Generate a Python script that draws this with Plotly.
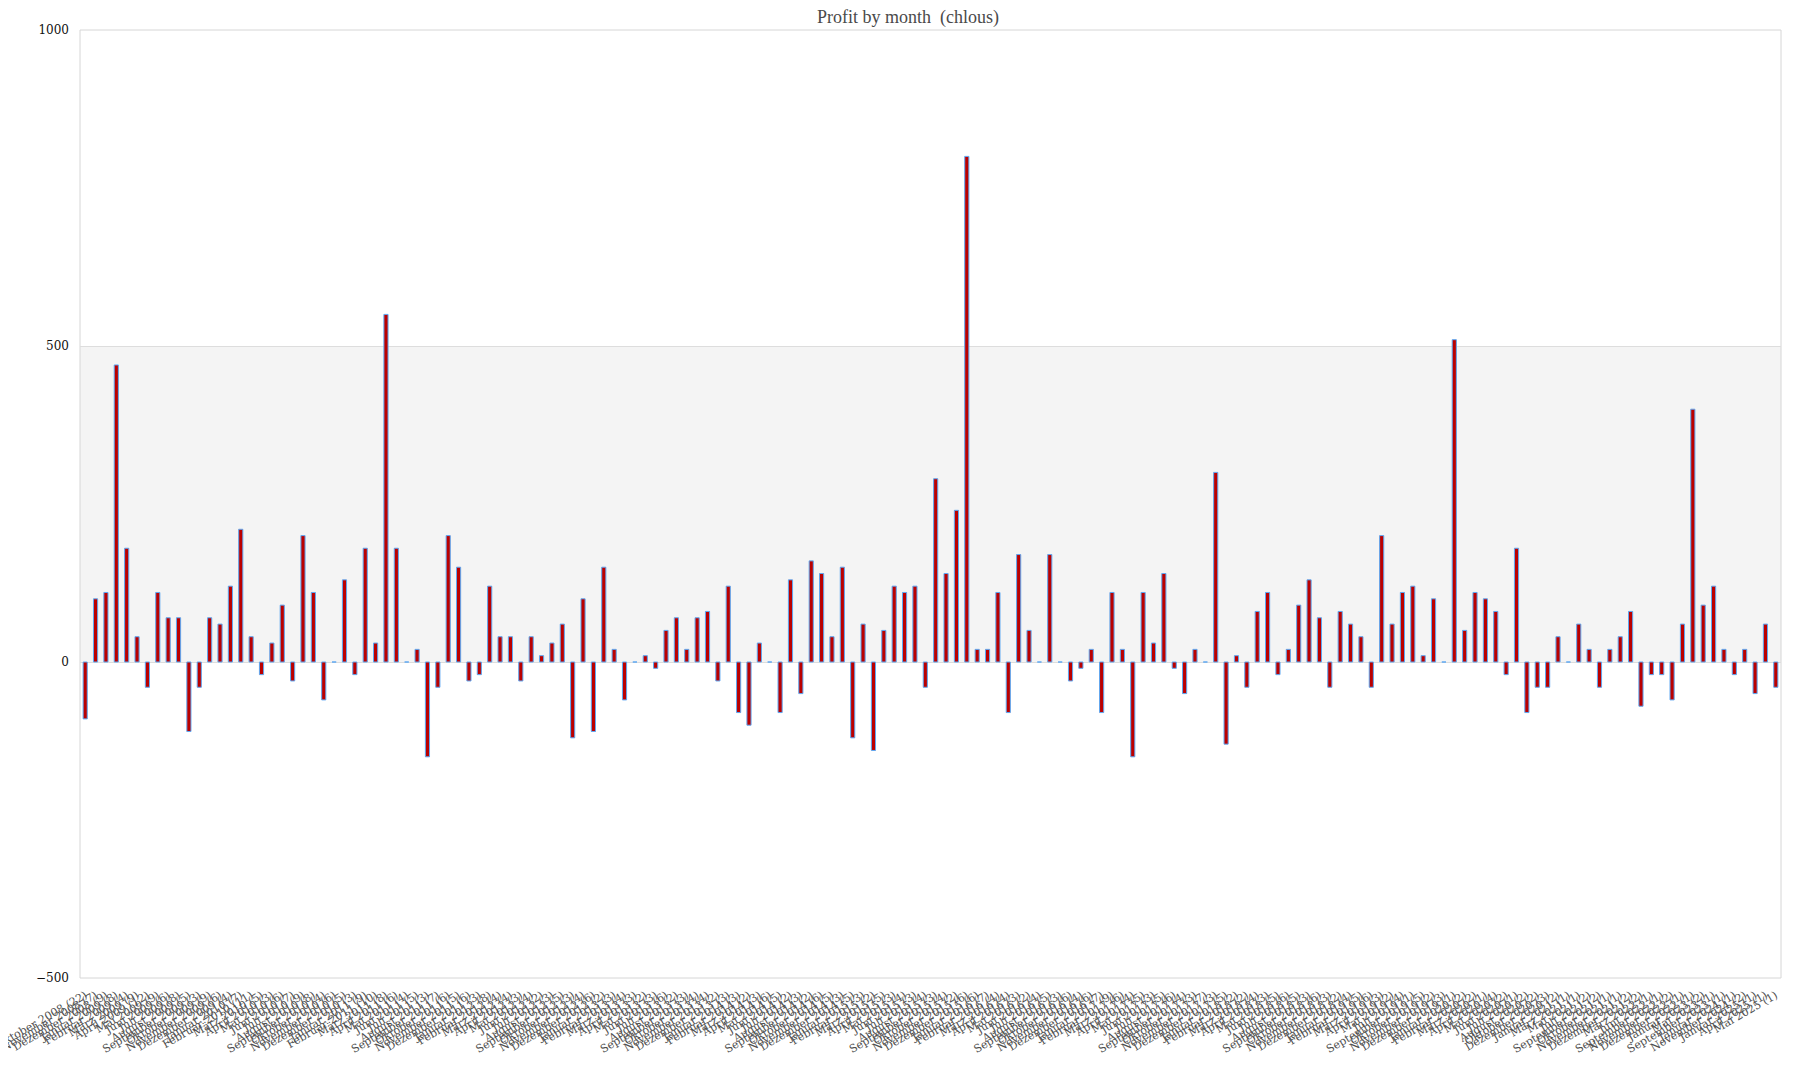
import plotly.graph_objects as go

# German month names used in the tick labels
months_de = ["Januar", "Februar", "März", "April", "Mai", "Juni", "Juli",
             "August", "September", "Oktober", "November", "Dezember"]

# months (year, month) that have at least one trade, in order
periods = [(2008, m) for m in (10, 11, 12)]
periods += [(y, m) for y in range(2009, 2018) for m in range(1, 13)]
periods += [(2018, m) for m in range(1, 13)]
periods += [(2019, m) for m in (1, 2, 3, 4, 5, 7, 9, 10, 11, 12)]
periods += [(2020, m) for m in (1, 2, 3, 4, 5, 6, 7, 8, 10, 12)]
periods += [(2021, m) for m in (1, 3, 5, 7, 9, 10, 11, 12)]
periods += [(2022, m) for m in (3, 6, 9, 11, 12)]
periods += [(2023, m) for m in (1, 5, 9)]
periods += [(2024, m) for m in (1, 11)]
periods += [(2025, m) for m in (1, 4, 5)]

# number of trades per month (the value in brackets)
trade_counts = [22, 7, 9, 8, 4, 9, 12, 9, 6, 8, 5, 3, 9, 6, 4, 7, 11, 5, 3, 6,
                7, 9, 8, 4, 6, 5, 3, 9, 10, 8, 6, 4, 5, 3, 7, 6, 5, 6, 3, 8,
                4, 4, 3, 4, 2, 3, 5, 3, 4, 6, 2, 3, 4, 3, 2, 3, 6, 2, 3, 4,
                4, 2, 3, 3, 2, 3, 6, 5, 2, 3, 2, 6, 5, 3, 5, 3, 2, 5, 3, 4,
                3, 4, 3, 4, 2, 6, 6, 7, 4, 4, 3, 2, 4, 5, 3, 6, 4, 6, 7, 9,
                6, 4, 5, 3, 5, 6, 4, 3, 7, 3, 5, 2, 2, 4, 3, 5, 6, 5, 3, 6,
                3, 2, 4, 5, 6, 3, 2, 4, 1, 5, 2, 3, 1, 2, 2, 1, 4, 2, 1, 2,
                2, 3, 2, 1, 1, 2, 2, 1, 1, 2, 2, 1, 1, 2, 1, 1, 2, 1, 1, 1,
                2, 1, 1, 1]

# profit per month
profits = [-90, 100, 110, 470, 180, 40, -40, 110, 70, 70,
           -110, -40, 70, 60, 120, 210, 40, -20, 30, 90,
           -30, 200, 110, -60, 0, 130, -20, 180, 30, 550,
           180, 0, 20, -150, -40, 200, 150, -30, -20, 120,
           40, 40, -30, 40, 10, 30, 60, -120, 100, -110,
           150, 20, -60, 0, 10, -10, 50, 70, 20, 70,
           80, -30, 120, -80, -100, 30, 0, -80, 130, -50,
           160, 140, 40, 150, -120, 60, -140, 50, 120, 110,
           120, -40, 290, 140, 240, 800, 20, 20, 110, -80,
           170, 50, 0, 170, 0, -30, -10, 20, -80, 110,
           20, -150, 110, 30, 140, -10, -50, 20, 0, 300,
           -130, 10, -40, 80, 110, -20, 20, 90, 130, 70,
           -40, 80, 60, 40, -40, 200, 60, 110, 120, 10,
           100, 0, 510, 50, 110, 100, 80, -20, 180, -80,
           -40, -40, 40, 0, 60, 20, -40, 20, 40, 80,
           -70, -20, -20, -60, 60, 400, 90, 120, 20, -20,
           20, -50, 60, -40]

labels = [months_de[m - 1] + " " + str(y) + " (" + str(n) + ")"
          for (y, m), n in zip(periods, trade_counts)]

serif = "DejaVu Serif, Liberation Serif, serif"

fig = go.Figure(go.Bar(x=labels, y=profits, name="Profit",
                       marker=dict(color="#bb0000", line=dict(color="#5ea8f2", width=1))))

# the page body adds 8px, margins are set so the plot lands where the original has it
fig.update_layout(
    width=1800, height=1080,
    title=dict(text="Profit by month  (chlous)", x=0.5, xref="container", y=1, yanchor="top",
               pad=dict(t=2), font=dict(family="Liberation Serif, serif", size=18, color="#4a4a4a")),
    paper_bgcolor="white", plot_bgcolor="white",
    margin=dict(l=72, r=27, t=22, b=110),
    bargap=0.6, showlegend=False,
    font=dict(family=serif),
    shapes=[dict(type="rect", xref="paper", yref="y", x0=0, x1=1, y0=0, y1=500,
                 fillcolor="#f4f4f4", line=dict(width=0), layer="below"),
            dict(type="rect", xref="paper", yref="paper", x0=0, x1=1, y0=0, y1=1,
                 line=dict(color="#d6d6d6", width=1), layer="below")],
)
fig.update_xaxes(type="category", tickmode="array", tickvals=labels, ticktext=labels,
                 tickangle=-30, showgrid=False, automargin=False, ticklabelstandoff=8,
                 tickfont=dict(family=serif, size=11, color="#4f4f4f"))
fig.update_yaxes(range=[-500, 1000], tickvals=[-500, 0, 500, 1000], showgrid=True,
                 gridcolor="#dddddd", zeroline=True, zerolinecolor="#dddddd", zerolinewidth=1,
                 automargin=False, ticklabelstandoff=10,
                 tickfont=dict(family=serif, size=12, color="#111111"))

fig.write_html("out.html")
